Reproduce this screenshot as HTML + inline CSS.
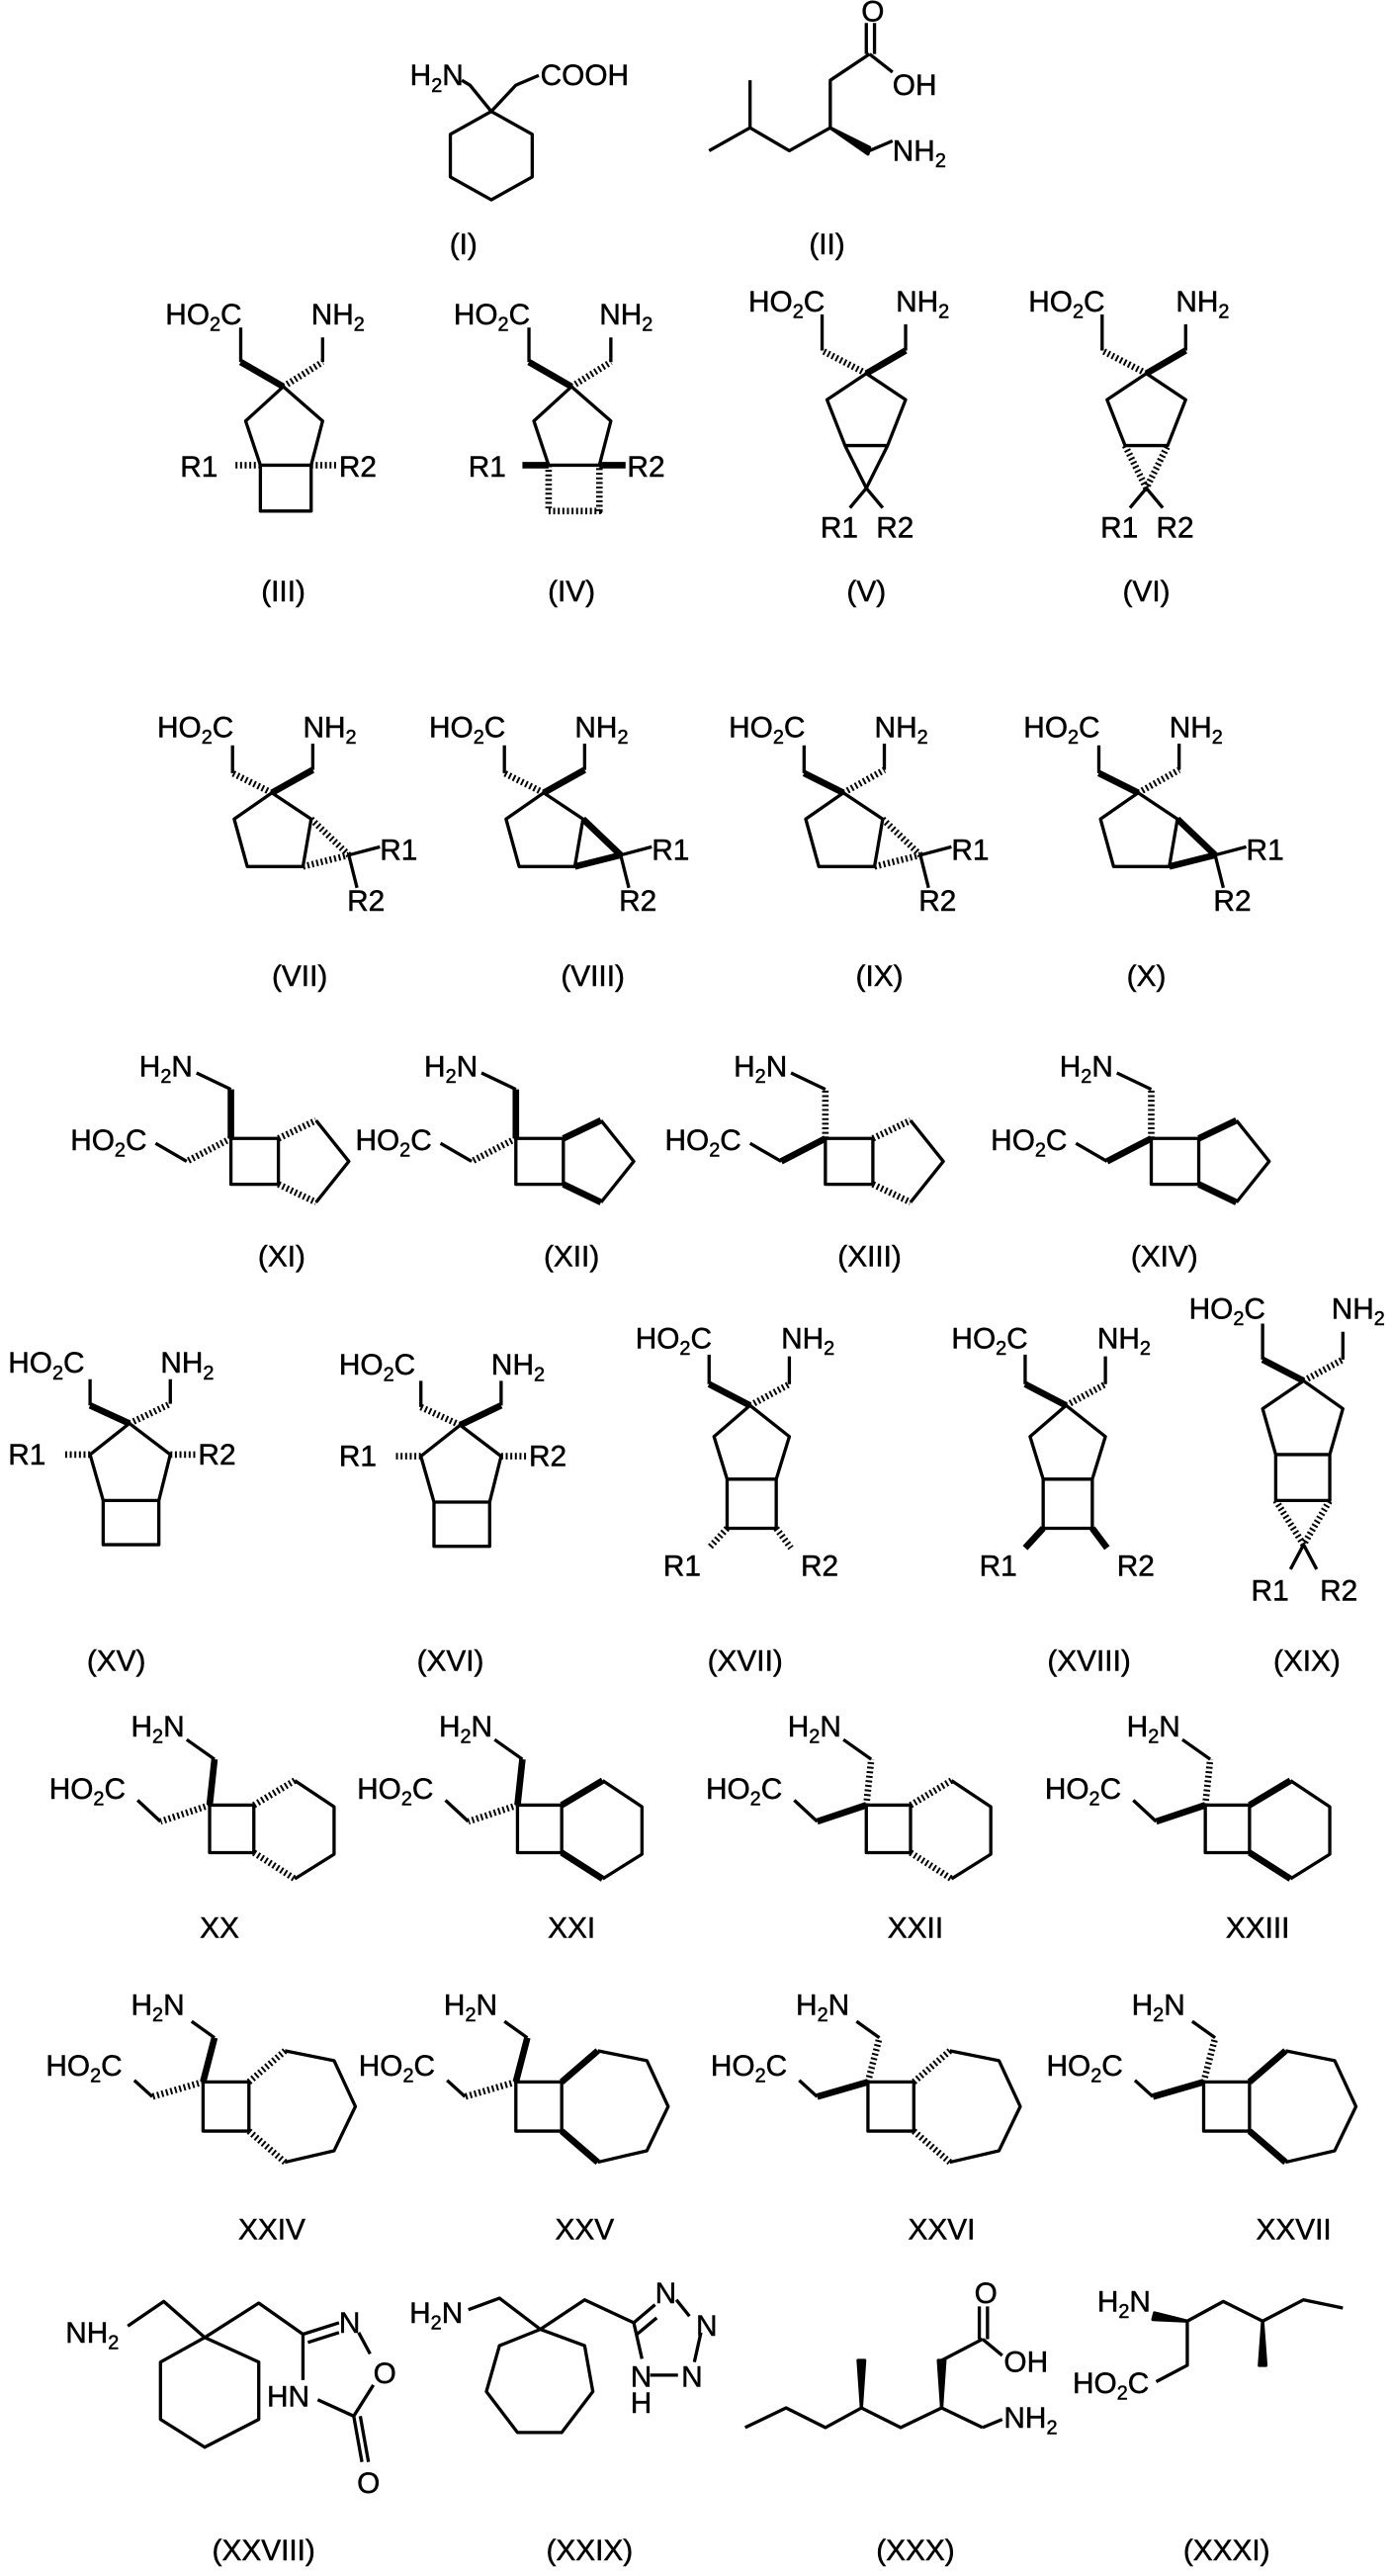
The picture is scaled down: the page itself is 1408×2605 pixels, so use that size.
<!DOCTYPE html>
<html><head><meta charset="utf-8"><style>
html,body{margin:0;padding:0;background:#fff;}
svg{display:block;}
path,line,polyline,polygon{fill:none;stroke:#000;stroke-width:2;stroke-linejoin:round;}
.w{stroke-width:4;}
.h{stroke-width:4;stroke-dasharray:1.2 1.6;}
polygon.f{fill:#000;}
text{font-family:"Liberation Sans Narrow","Liberation Sans",sans-serif;font-size:18px;fill:#000;stroke:#000;stroke-width:0.3;}
.s{font-size:12px;}
.l{text-anchor:middle;font-size:18px;}
</style></head><body>
<svg width="1408" height="2605" viewBox="0 0 850 1572.6" xmlns="http://www.w3.org/2000/svg">
<!-- Row 1 -->
<path d="M300,68 L325,82 L325,108 L300,122 L275,108 L275,82 Z M300,68 L287,52 L282,49 M300,68 L315,52 L329,46"/>
<text x="283" y="52" text-anchor="end">H<tspan class="s" dy="4">2</tspan><tspan dy="-4">N</tspan></text>
<text x="330" y="52">COOH</text>
<text class="l" x="283" y="155">(I)</text>
<path d="M433,92 L458,78 L482,92 L507,78 L507,49 L531,33 M458,78 L458,49 M529,33 L529,14 M534,33 L534,14 M531,33 L545,44"/>
<polygon class="f" points="507,78 531,90 530,94"/>
<path d="M531,92 L545,86"/>
<text x="526" y="13">O</text>
<text x="545" y="58">OH</text>
<text x="545" y="98">NH<tspan class="s" dy="4">2</tspan></text>
<text class="l" x="505" y="155">(II)</text>

<!-- Row 2 -->
<g transform="translate(173,236)">
<path d="M-26,-15 L-26,-36 M24,-15 L24,-30 M0,0 L-23,21 L-14,48 L17,48 L24,21 Z M-14,48 L-14,76 L17,76 L17,48"/>
<path class="w" d="M0,0 L-26,-15"/><path class="h" d="M0,0 L24,-15 M-14,48 L-30,48 M17,48 L33,48"/>
<text x="-72" y="-38">HO<tspan class="s" dy="4">2</tspan><tspan dy="-4">C</tspan></text>
<text x="17" y="-38">NH<tspan class="s" dy="4">2</tspan></text>
<text x="-63" y="55">R1</text><text x="34" y="55">R2</text>
<text class="l" x="0" y="131">(III)</text></g>
<g transform="translate(349,236)">
<path d="M-26,-15 L-26,-36 M24,-15 L24,-30 M0,0 L-23,21 L-14,48 L17,48 L24,21 Z"/>
<path class="h" d="M-14,48 L-14,76 L17,76 L17,48 M0,0 L24,-15"/><path class="w" d="M0,0 L-26,-15 M-14,48 L-30,48 M17,48 L33,48"/>
<text x="-72" y="-38">HO<tspan class="s" dy="4">2</tspan><tspan dy="-4">C</tspan></text>
<text x="17" y="-38">NH<tspan class="s" dy="4">2</tspan></text>
<text x="-63" y="55">R1</text><text x="34" y="55">R2</text>
<text class="l" x="0" y="131">(IV)</text></g>
<g transform="translate(529,228)">
<path d="M-27,-14 L-27,-36 M24,-14 L24,-30 M0,0 L-24,16 L-13,44 L13,44 L24,16 Z M-13,44 L0,70 L13,44 M0,70 L-10,82 M0,70 L10,82"/>
<path class="h" d="M0,0 L-27,-14"/><path class="w" d="M0,0 L24,-14"/>
<text x="-72" y="-38">HO<tspan class="s" dy="4">2</tspan><tspan dy="-4">C</tspan></text>
<text x="18" y="-38">NH<tspan class="s" dy="4">2</tspan></text>
<text x="-28" y="100">R1</text><text x="6" y="100">R2</text>
<text class="l" x="0" y="139">(V)</text></g>
<g transform="translate(700,228)">
<path d="M-27,-14 L-27,-36 M24,-14 L24,-30 M0,0 L-24,16 L-13,44 L13,44 L24,16 Z M0,70 L-10,82 M0,70 L10,82"/>
<path class="h" d="M0,0 L-27,-14 M-13,44 L0,70 L13,44"/><path class="w" d="M0,0 L24,-14"/>
<text x="-72" y="-38">HO<tspan class="s" dy="4">2</tspan><tspan dy="-4">C</tspan></text>
<text x="18" y="-38">NH<tspan class="s" dy="4">2</tspan></text>
<text x="-28" y="100">R1</text><text x="6" y="100">R2</text>
<text class="l" x="0" y="139">(VI)</text></g>

<!-- Row 3 -->
<g transform="translate(166,484)">
<path d="M-24,-12 L-24,-29 M25,-14 L25,-30 M0,0 L-23,16 L-15,45 L19,45 L24,16 Z M47,38 L66,33 M47,38 L52,58"/>
<path class="h" d="M0,0 L-24,-12 M24,16 L47,38 M19,45 L47,38"/><path class="w" d="M0,0 L25,-14"/>
<text x="-70" y="-34">HO<tspan class="s" dy="4">2</tspan><tspan dy="-4">C</tspan></text>
<text x="19" y="-34">NH<tspan class="s" dy="4">2</tspan></text>
<text x="66" y="41">R1</text><text x="46" y="72">R2</text>
<text class="l" x="17" y="118">(VII)</text></g>
<g transform="translate(332,484)">
<path d="M-24,-12 L-24,-29 M25,-14 L25,-30 M0,0 L-23,16 L-15,45 L19,45 L24,16 Z M47,38 L66,33 M47,38 L52,58"/>
<path class="h" d="M0,0 L-24,-12"/><path class="w" d="M0,0 L25,-14 M24,16 L47,38 M19,45 L47,38"/>
<text x="-70" y="-34">HO<tspan class="s" dy="4">2</tspan><tspan dy="-4">C</tspan></text>
<text x="19" y="-34">NH<tspan class="s" dy="4">2</tspan></text>
<text x="66" y="41">R1</text><text x="46" y="72">R2</text>
<text class="l" x="30" y="118">(VIII)</text></g>
<g transform="translate(515,484)">
<path d="M-24,-12 L-24,-29 M25,-14 L25,-30 M0,0 L-23,16 L-15,45 L19,45 L24,16 Z M47,38 L66,33 M47,38 L52,58"/>
<path class="w" d="M0,0 L-24,-12"/><path class="h" d="M0,0 L25,-14 M24,16 L47,38 M19,45 L47,38"/>
<text x="-70" y="-34">HO<tspan class="s" dy="4">2</tspan><tspan dy="-4">C</tspan></text>
<text x="19" y="-34">NH<tspan class="s" dy="4">2</tspan></text>
<text x="66" y="41">R1</text><text x="46" y="72">R2</text>
<text class="l" x="22" y="118">(IX)</text></g>
<g transform="translate(695,484)">
<path d="M-24,-12 L-24,-29 M25,-14 L25,-30 M0,0 L-23,16 L-15,45 L19,45 L24,16 Z M47,38 L66,33 M47,38 L52,58"/>
<path class="w" d="M0,0 L-24,-12 M24,16 L47,38 M19,45 L47,38"/><path class="h" d="M0,0 L25,-14"/>
<text x="-70" y="-34">HO<tspan class="s" dy="4">2</tspan><tspan dy="-4">C</tspan></text>
<text x="19" y="-34">NH<tspan class="s" dy="4">2</tspan></text>
<text x="66" y="41">R1</text><text x="46" y="72">R2</text>
<text class="l" x="5" y="118">(X)</text></g>

<!-- Row 4 -->
<g transform="translate(141,695)">
<path d="M0,0 L29,0 L29,28 L0,28 Z M52,-11 L72,14 L52,39 M0,-30 L-21,-40 M-27,14 L-46,3"/>
<path class="w" d="M0,0 L0,-30"/><path class="h" d="M0,0 L-27,14 M29,0 L52,-11 M29,28 L52,39"/>
<text x="-56" y="-38">H<tspan class="s" dy="4">2</tspan><tspan dy="-4">N</tspan></text>
<text x="-98" y="7">HO<tspan class="s" dy="4">2</tspan><tspan dy="-4">C</tspan></text>
<text class="l" x="31" y="78">(XI)</text></g>
<g transform="translate(315,695)">
<path d="M0,0 L29,0 L29,28 L0,28 Z M52,-11 L72,14 L52,39 M0,-30 L-21,-40 M-27,14 L-46,3"/>
<path class="w" d="M0,0 L0,-30 M29,0 L52,-11 M29,28 L52,39"/><path class="h" d="M0,0 L-27,14"/>
<text x="-56" y="-38">H<tspan class="s" dy="4">2</tspan><tspan dy="-4">N</tspan></text>
<text x="-98" y="7">HO<tspan class="s" dy="4">2</tspan><tspan dy="-4">C</tspan></text>
<text class="l" x="34" y="78">(XII)</text></g>
<g transform="translate(504,695)">
<path d="M0,0 L29,0 L29,28 L0,28 Z M52,-11 L72,14 L52,39 M0,-30 L-21,-40 M-27,14 L-46,3"/>
<path class="h" d="M0,0 L0,-30 M29,0 L52,-11 M29,28 L52,39"/><path class="w" d="M0,0 L-27,14"/>
<text x="-56" y="-38">H<tspan class="s" dy="4">2</tspan><tspan dy="-4">N</tspan></text>
<text x="-98" y="7">HO<tspan class="s" dy="4">2</tspan><tspan dy="-4">C</tspan></text>
<text class="l" x="27" y="78">(XIII)</text></g>
<g transform="translate(703,695)">
<path d="M0,0 L29,0 L29,28 L0,28 Z M52,-11 L72,14 L52,39 M0,-30 L-21,-40 M-27,14 L-46,3"/>
<path class="h" d="M0,0 L0,-30"/><path class="w" d="M0,0 L-27,14 M29,0 L52,-11 M29,28 L52,39"/>
<text x="-56" y="-38">H<tspan class="s" dy="4">2</tspan><tspan dy="-4">N</tspan></text>
<text x="-98" y="7">HO<tspan class="s" dy="4">2</tspan><tspan dy="-4">C</tspan></text>
<text class="l" x="8" y="78">(XIV)</text></g>

<!-- Row 5 -->
<g transform="translate(79,869)">
<path d="M-24,-11 L-24,-27 M25,-12 L25,-27 M0,0 L-24,19 L-16,47 L18,47 L25,19 Z M-16,47 L-16,74 L18,74 L18,47"/>
<path class="w" d="M0,0 L-24,-11"/><path class="h" d="M0,0 L25,-12 M-24,19 L-40,19 M25,19 L41,19"/>
<text x="-74" y="-31">HO<tspan class="s" dy="4">2</tspan><tspan dy="-4">C</tspan></text>
<text x="19" y="-31">NH<tspan class="s" dy="4">2</tspan></text>
<text x="-74" y="25">R1</text><text x="42" y="25">R2</text>
<text class="l" x="-8" y="151">(XV)</text></g>
<g transform="translate(281,870)">
<path d="M-24,-11 L-24,-27 M25,-12 L25,-27 M0,0 L-24,19 L-16,47 L18,47 L25,19 Z M-16,47 L-16,74 L18,74 L18,47"/>
<path class="h" d="M0,0 L-24,-11 M-24,19 L-40,19 M25,19 L41,19"/><path class="w" d="M0,0 L25,-12"/>
<text x="-74" y="-31">HO<tspan class="s" dy="4">2</tspan><tspan dy="-4">C</tspan></text>
<text x="19" y="-31">NH<tspan class="s" dy="4">2</tspan></text>
<text x="-74" y="25">R1</text><text x="42" y="25">R2</text>
<text class="l" x="-6" y="150">(XVI)</text></g>
<g transform="translate(458,858)">
<path d="M-25,-13 L-25,-31 M24,-13 L24,-30 M0,0 L-22,19 L-14,45 L16,45 L24,19 Z M-14,45 L-14,75 L16,75 L16,45"/>
<path class="w" d="M0,0 L-25,-13"/><path class="h" d="M0,0 L24,-13 M-14,75 L-25,87 M16,75 L25,87"/>
<text x="-70" y="-35">HO<tspan class="s" dy="4">2</tspan><tspan dy="-4">C</tspan></text>
<text x="19" y="-35">NH<tspan class="s" dy="4">2</tspan></text>
<text x="-53" y="104">R1</text><text x="31" y="104">R2</text>
<text class="l" x="-3" y="162">(XVII)</text></g>
<g transform="translate(651,858)">
<path d="M-25,-13 L-25,-31 M24,-13 L24,-30 M0,0 L-22,19 L-14,45 L16,45 L24,19 Z M-14,45 L-14,75 L16,75 L16,45"/>
<path class="w" d="M0,0 L-25,-13 M-14,75 L-25,87 M16,75 L25,87"/><path class="h" d="M0,0 L24,-13"/>
<text x="-70" y="-35">HO<tspan class="s" dy="4">2</tspan><tspan dy="-4">C</tspan></text>
<text x="19" y="-35">NH<tspan class="s" dy="4">2</tspan></text>
<text x="-53" y="104">R1</text><text x="31" y="104">R2</text>
<text class="l" x="14" y="162">(XVIII)</text></g>
<g transform="translate(796,843)">
<path d="M-25,-13 L-25,-35 M24,-13 L24,-30 M0,0 L-25,17 L-17,45 L16,45 L24,17 Z M-17,45 L-17,73 L16,73 L16,45 M0,100 L-8,115 M0,100 L8,115"/>
<path class="w" d="M0,0 L-25,-13"/><path class="h" d="M0,0 L24,-13 M-17,73 L0,100 L16,73"/>
<text x="-70" y="-38">HO<tspan class="s" dy="4">2</tspan><tspan dy="-4">C</tspan></text>
<text x="17" y="-38">NH<tspan class="s" dy="4">2</tspan></text>
<text x="-32" y="134">R1</text><text x="10" y="134">R2</text>
<text class="l" x="2" y="177">(XIX)</text></g>

<!-- Row 6 -->
<g transform="translate(128,1102)">
<path d="M0,0 L27,0 L27,29 L0,29 Z M52,-15 L76,1 L76,30 L52,45 M3,-28 L-14,-40 M-30,10 L-44,-3"/>
<path class="w" d="M0,0 L3,-28"/><path class="h" d="M0,0 L-30,10 M27,0 L52,-15 M27,29 L52,45"/>
<text x="-48" y="-42">H<tspan class="s" dy="4">2</tspan><tspan dy="-4">N</tspan></text>
<text x="-98" y="-4">HO<tspan class="s" dy="4">2</tspan><tspan dy="-4">C</tspan></text>
<text class="l" x="6" y="81">XX</text></g>
<g transform="translate(316,1102)">
<path d="M0,0 L27,0 L27,29 L0,29 Z M52,-15 L76,1 L76,30 L52,45 M3,-28 L-14,-40 M-30,10 L-44,-3"/>
<path class="w" d="M0,0 L3,-28 M27,0 L52,-15 M27,29 L52,45"/><path class="h" d="M0,0 L-30,10"/>
<text x="-48" y="-42">H<tspan class="s" dy="4">2</tspan><tspan dy="-4">N</tspan></text>
<text x="-98" y="-4">HO<tspan class="s" dy="4">2</tspan><tspan dy="-4">C</tspan></text>
<text class="l" x="33" y="81">XXI</text></g>
<g transform="translate(529,1102)">
<path d="M0,0 L27,0 L27,29 L0,29 Z M52,-15 L76,1 L76,30 L52,45 M3,-28 L-14,-40 M-30,10 L-44,-3"/>
<path class="h" d="M0,0 L3,-28 M27,0 L52,-15 M27,29 L52,45"/><path class="w" d="M0,0 L-30,10"/>
<text x="-48" y="-42">H<tspan class="s" dy="4">2</tspan><tspan dy="-4">N</tspan></text>
<text x="-98" y="-4">HO<tspan class="s" dy="4">2</tspan><tspan dy="-4">C</tspan></text>
<text class="l" x="30" y="81">XXII</text></g>
<g transform="translate(736,1102)">
<path d="M0,0 L27,0 L27,29 L0,29 Z M52,-15 L76,1 L76,30 L52,45 M3,-28 L-14,-40 M-30,10 L-44,-3"/>
<path class="h" d="M0,0 L3,-28"/><path class="w" d="M0,0 L-30,10 M27,0 L52,-15 M27,29 L52,45"/>
<text x="-48" y="-42">H<tspan class="s" dy="4">2</tspan><tspan dy="-4">N</tspan></text>
<text x="-98" y="-4">HO<tspan class="s" dy="4">2</tspan><tspan dy="-4">C</tspan></text>
<text class="l" x="32" y="81">XXIII</text></g>

<!-- Row 7 -->
<g transform="translate(124,1271)">
<path d="M0,0 L28,0 L28,30 L0,30 Z M50,-19 L80,-13 L93,15 L80,42 L50,49 M7,-27 L-7,-37 M-31,9 L-42,-1"/>
<path class="w" d="M0,0 L7,-27"/><path class="h" d="M0,0 L-31,9 M28,0 L50,-19 M28,30 L50,49"/>
<text x="-44" y="-41">H<tspan class="s" dy="4">2</tspan><tspan dy="-4">N</tspan></text>
<text x="-96" y="-4">HO<tspan class="s" dy="4">2</tspan><tspan dy="-4">C</tspan></text>
<text class="l" x="42" y="96">XXIV</text></g>
<g transform="translate(315,1271)">
<path d="M0,0 L28,0 L28,30 L0,30 Z M50,-19 L80,-13 L93,15 L80,42 L50,49 M7,-27 L-7,-37 M-31,9 L-42,-1"/>
<path class="w" d="M0,0 L7,-27 M28,0 L50,-19 M28,30 L50,49"/><path class="h" d="M0,0 L-31,9"/>
<text x="-44" y="-41">H<tspan class="s" dy="4">2</tspan><tspan dy="-4">N</tspan></text>
<text x="-96" y="-4">HO<tspan class="s" dy="4">2</tspan><tspan dy="-4">C</tspan></text>
<text class="l" x="42" y="96">XXV</text></g>
<g transform="translate(530,1271)">
<path d="M0,0 L28,0 L28,30 L0,30 Z M50,-19 L80,-13 L93,15 L80,42 L50,49 M7,-27 L-7,-37 M-31,9 L-42,-1"/>
<path class="h" d="M0,0 L7,-27 M28,0 L50,-19 M28,30 L50,49"/><path class="w" d="M0,0 L-31,9"/>
<text x="-44" y="-41">H<tspan class="s" dy="4">2</tspan><tspan dy="-4">N</tspan></text>
<text x="-96" y="-4">HO<tspan class="s" dy="4">2</tspan><tspan dy="-4">C</tspan></text>
<text class="l" x="45" y="96">XXVI</text></g>
<g transform="translate(735,1271)">
<path d="M0,0 L28,0 L28,30 L0,30 Z M50,-19 L80,-13 L93,15 L80,42 L50,49 M7,-27 L-7,-37 M-31,9 L-42,-1"/>
<path class="h" d="M0,0 L7,-27"/><path class="w" d="M0,0 L-31,9 M28,0 L50,-19 M28,30 L50,49"/>
<text x="-44" y="-41">H<tspan class="s" dy="4">2</tspan><tspan dy="-4">N</tspan></text>
<text x="-96" y="-4">HO<tspan class="s" dy="4">2</tspan><tspan dy="-4">C</tspan></text>
<text class="l" x="55" y="96">XXVII</text></g>

<!-- Row 8 -->
<path d="M125,1427 L98,1442 L98,1477 L125,1494 L158,1477 L158,1442 Z M125,1427 L100,1405 L78,1420 M125,1427 L158,1406 L185,1425 L185,1453 M185,1425 L207,1418 M188,1430 L207,1424 M219,1424 L226,1437 M228,1456 L216,1475 L194,1465 M216,1475 L221,1503 M220,1475 L225,1503"/>
<text x="40" y="1430">NH<tspan class="s" dy="4">2</tspan></text>
<text x="207" y="1424">N</text>
<text x="228" y="1455">O</text>
<text x="163" y="1469">HN</text>
<text x="218" y="1522">O</text>
<text class="l" x="161" y="1563">(XXVIII)</text>

<path d="M330,1422 L305,1432 L297,1460 L316,1485 L343,1485 L362,1460 L357,1432 Z M330,1422 L305,1403 L286,1410 M330,1422 L357,1404 L387,1418 L392,1440 M387,1418 L400,1407 M389,1425 L401,1415 M413,1404 L421,1414 M428,1424 L424,1442 M397,1450 L414,1450"/>
<text x="250" y="1418">H<tspan class="s" dy="4">2</tspan><tspan dy="-4">N</tspan></text>
<text x="400" y="1406">N</text>
<text x="425" y="1426">N</text>
<text x="416" y="1457">N</text>
<text x="385" y="1457">N</text>
<text x="385" y="1473">H</text>
<text class="l" x="360" y="1563">(XXIX)</text>

<path d="M455,1482 L480,1470 L504,1482 L526,1470 L550,1482 L575,1470 L600,1482 M575,1470 L575,1441 L600,1428 M598,1428 L598,1408 M603,1428 L603,1408 M600,1428 L612,1438 M600,1482 L612,1477"/>
<polygon class="f" points="526,1470 524,1441 528,1441"/>
<polygon class="f" points="575,1470 573,1441 577,1441"/>
<text x="595" y="1406">O</text>
<text x="613" y="1448">OH</text>
<text x="613" y="1482">NH<tspan class="s" dy="4">2</tspan></text>
<text class="l" x="559" y="1563">(XXX)</text>

<path d="M725,1417 L747,1405 L771,1417 L796,1404 L820,1409 M725,1417 L725,1444 L706,1454"/>
<polygon class="f" points="705,1412 725,1417 704,1416"/>
<polygon class="f" points="771,1417 769,1444 773,1444"/>
<text x="670" y="1411">H<tspan class="s" dy="4">2</tspan><tspan dy="-4">N</tspan></text>
<text x="655" y="1461">HO<tspan class="s" dy="4">2</tspan><tspan dy="-4">C</tspan></text>
<text class="l" x="749" y="1563">(XXXI)</text>
</svg>
</body></html>
